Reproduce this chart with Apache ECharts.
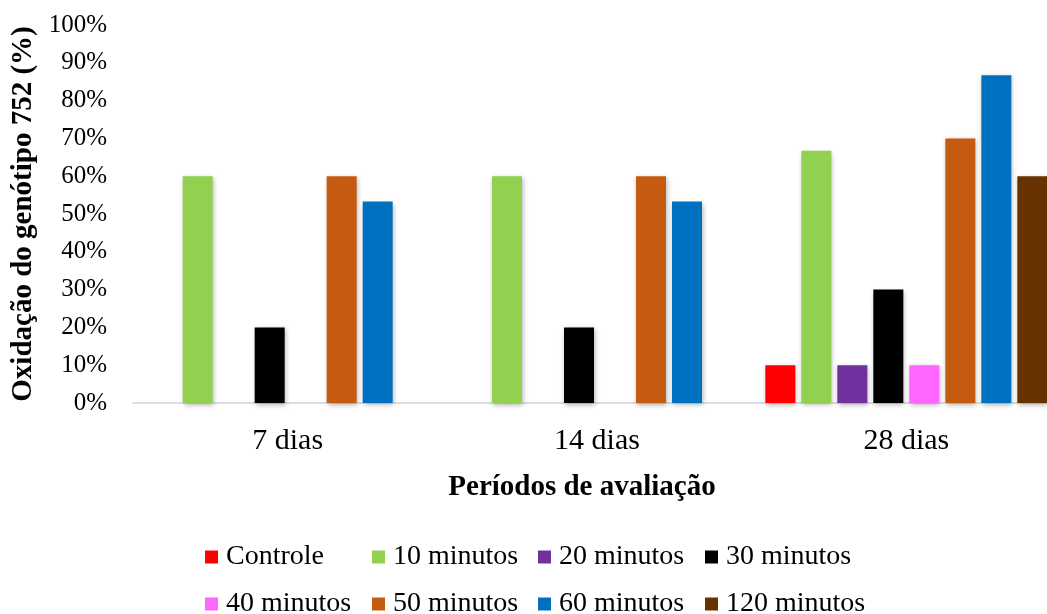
<!DOCTYPE html>
<html>
<head>
<meta charset="utf-8">
<script src="https://cdn.jsdelivr.net/npm/echarts@6/dist/echarts.min.js"></script>
<style>
  html, body { margin: 0; padding: 0; background: #ffffff; }
  #chart { width: 1047px; height: 614px; }
</style>
</head>
<body>
<div id="chart"></div>
<script>
// Evaluation periods (x categories)
const categories = ['7 dias', '14 dias', '28 dias'];

// Oxidation (%) per treatment, one value per period
const controle   = [0, 0, 10];
const min10      = [60, 60, 66.7];
const min20      = [0, 0, 10];
const min30      = [20, 20, 30];
const min40      = [0, 0, 10];
const min50      = [60, 60, 70];
const min60      = [53.3, 53.3, 86.7];
const min120     = [0, 0, 60];

const seriesNames = ['Controle', '10 minutos', '20 minutos', '30 minutos',
                     '40 minutos', '50 minutos', '60 minutos', '120 minutos'];
const seriesData = [controle, min10, min20, min30, min40, min50, min60, min120];
const seriesColors = ['#ff0000', '#92d050', '#7030a0', '#000000',
                      '#ff66ff', '#c55a11', '#0070c0', '#663300'];

// Y axis ticks: 0% .. 100% every 10%
const yMin = 0, yMax = 100, yStep = 10;

const FONT = '"Liberation Serif", "Times New Roman", serif';

const chart = echarts.init(document.getElementById('chart'), null, { renderer: 'canvas' });

const series = seriesNames.map((name, i) => ({
  name: name,
  type: 'bar',
  data: seriesData[i],
  barWidth: 30,
  barGap: '20%',
  itemStyle: {
    color: seriesColors[i],
    shadowBlur: 5,
    shadowColor: 'rgba(0,0,0,0.3)',
    shadowOffsetX: 1,
    shadowOffsetY: 2
  }
}));

// Legend: one entry per component, in a 4-column x 2-row layout
const legendCols = [205, 372, 538, 705];
const legendRows = [542, 589];
const legends = seriesNames.map((name, i) => ({
  left: legendCols[i % 4],
  top: legendRows[Math.floor(i / 4)],
  padding: 0,
  itemWidth: 13,
  itemHeight: 13,
  icon: 'rect',
  data: [name],
  textStyle: {
    fontFamily: FONT,
    fontSize: 28,
    color: '#000',
    lineHeight: 30,
    padding: [0, 0, 0, 3]
  }
}));

chart.setOption({
  animation: false,
  backgroundColor: '#ffffff',
  textStyle: { fontFamily: FONT },
  grid: {
    left: 133, top: 25, width: 928, bottom: 211,
    containLabel: false, outerBoundsMode: 'none'
  },
  legend: legends,
  xAxis: {
    type: 'category',
    data: categories,
    axisLine: { lineStyle: { color: '#d9dee6', width: 2 } },
    axisTick: { show: false },
    axisLabel: { fontFamily: FONT, fontSize: 30, color: '#000', margin: 23 },
    name: 'Períodos de avaliação',
    nameLocation: 'middle',
    nameGap: 70,
    nameTextStyle: {
      fontFamily: FONT, fontSize: 29, fontWeight: 'bold', color: '#000',
      padding: [0, 30, 0, 0]
    }
  },
  yAxis: {
    type: 'value',
    min: yMin,
    max: yMax,
    interval: yStep,
    axisLine: { show: false },
    axisTick: { show: false },
    splitLine: { show: false },
    axisLabel: {
      fontFamily: FONT, fontSize: 25, color: '#000', margin: 26,
      formatter: '{value}%'
    },
    name: 'Oxidação do genótipo 752 (%)',
    nameLocation: 'middle',
    nameGap: 84,
    nameTextStyle: { fontFamily: FONT, fontSize: 29, fontWeight: 'bold', color: '#000' }
  },
  series: series
});
</script>
</body>
</html>
